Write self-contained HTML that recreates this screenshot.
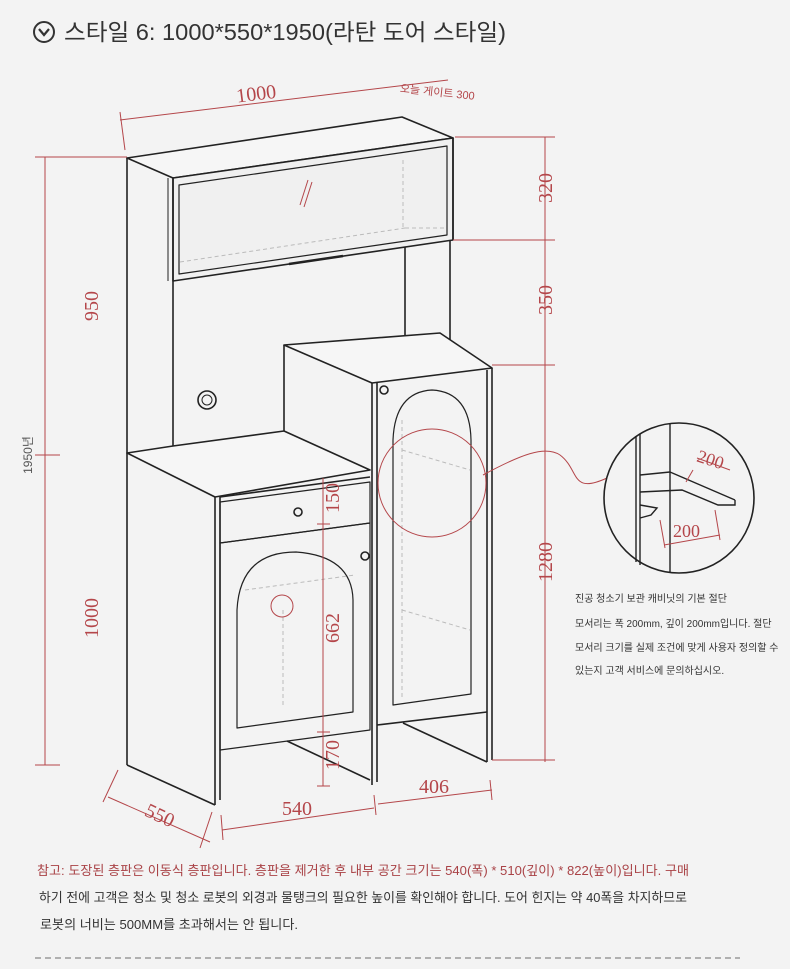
<!DOCTYPE html>
<html><head><meta charset="utf-8"><style>
html,body{margin:0;padding:0;background:#f3f3f3}
svg{display:block}
text{font-family:"Liberation Sans","Noto Sans CJK KR",sans-serif}
.s text, text.s{font-family:"Liberation Serif","Noto Serif CJK SC",serif}
</style></head><body>
<svg width="790" height="969" viewBox="0 0 790 969" xmlns="http://www.w3.org/2000/svg">
<rect width="790" height="969" fill="#f3f3f3"/>
<circle cx="44" cy="32" r="10" fill="none" stroke="#333" stroke-width="2"/>
<polyline points="39,29 44,35 49,29" fill="none" stroke="#333" stroke-width="2.2"/>
<text x="64" y="40" font-size="23" fill="#333" textLength="442" lengthAdjust="spacingAndGlyphs">스타일 6: 1000*550*1950(라탄 도어 스타일)</text>

<g fill="none" stroke="#222" stroke-width="1.6" stroke-linejoin="round">
<polygon points="127,158 402,117 453,138 173,178" fill="#f6f6f6"/>
<polygon points="173,178 453,138 453,240 173,281" fill="#f0f0f0"/>
<polygon points="179,185 447,146 447,235 179,274" stroke-width="1.2"/>
<line x1="289" y1="264" x2="343" y2="256" stroke-width="2.5"/>
<line x1="127" y1="158" x2="127" y2="765"/>
<line x1="173" y1="178" x2="173" y2="446"/>
<line x1="168" y1="178" x2="168" y2="281" stroke-width="1"/>
<line x1="405" y1="247" x2="405" y2="345"/>
<line x1="450" y1="240" x2="450" y2="345"/>
<line x1="453" y1="138" x2="453" y2="240"/>
<circle cx="207" cy="400" r="9"/><circle cx="207" cy="400" r="5" stroke-width="1"/>
<polygon points="127,453 173,446 284,431 370,470 215,497" fill="#f6f6f6"/>
<line x1="215" y1="497" x2="215" y2="805"/>
<line x1="220" y1="497" x2="220" y2="800"/>
<line x1="127" y1="765" x2="215" y2="805"/>
<line x1="220" y1="497" x2="370" y2="477"/>
<polygon points="220,502 370,482 370,523 220,543" stroke-width="1.2"/>
<circle cx="298" cy="512" r="4"/>
<polygon points="220,543 370,523 370,730 220,750" stroke-width="1.2"/>
<path d="M237,728 L237,610 Q240,552 296,552 Q352,556 353,600 L353,712 Z" stroke-width="1.2"/>
<circle cx="365" cy="556" r="4"/>
<line x1="287" y1="741" x2="370" y2="780"/>
<polygon points="284,345 440,333 492,368 372,383" fill="#f6f6f6"/>
<line x1="284" y1="345" x2="284" y2="431"/>
<line x1="372" y1="383" x2="372" y2="785"/>
<line x1="377" y1="383" x2="377" y2="782"/>
<line x1="487" y1="370" x2="487" y2="762"/>
<line x1="492" y1="368" x2="492" y2="760"/>
<line x1="377" y1="725" x2="487" y2="712"/>
<line x1="403" y1="723" x2="487" y2="762"/>
<path d="M393,705 L393,440 Q395,392 432,390 Q470,392 471,440 L471,694 Z" stroke-width="1.2"/>
<circle cx="384" cy="390" r="4"/>
</g>
<g stroke="#bbb" stroke-width="1" stroke-dasharray="4,3" fill="none">
<line x1="180" y1="262" x2="405" y2="228"/><line x1="405" y1="228" x2="445" y2="228"/><line x1="403" y1="160" x2="403" y2="230"/>
<line x1="245" y1="590" x2="355" y2="575"/><line x1="283" y1="610" x2="283" y2="705"/>
<line x1="402" y1="450" x2="470" y2="470"/><line x1="402" y1="610" x2="470" y2="630"/><line x1="402" y1="420" x2="402" y2="700"/>
</g>
<g stroke="#b4464a" stroke-width="1" fill="none">
<line x1="120" y1="120" x2="448" y2="80"/><line x1="120" y1="112" x2="125" y2="150"/>
<line x1="545" y1="137" x2="545" y2="762"/>
<line x1="455" y1="137" x2="555" y2="137"/><line x1="453" y1="240" x2="555" y2="240"/>
<line x1="492" y1="365" x2="555" y2="365"/><line x1="492" y1="760" x2="555" y2="760"/>
<line x1="45" y1="157" x2="45" y2="765"/>
<line x1="35" y1="157" x2="127" y2="157"/><line x1="35" y1="455" x2="60" y2="455"/><line x1="35" y1="765" x2="60" y2="765"/>
<line x1="323" y1="478" x2="323" y2="786"/>
<line x1="317" y1="524" x2="330" y2="524"/><line x1="317" y1="732" x2="330" y2="732"/><line x1="317" y1="786" x2="330" y2="786"/>
<line x1="108" y1="797" x2="210" y2="842"/><line x1="103" y1="802" x2="118" y2="770"/><line x1="200" y1="848" x2="212" y2="812"/>
<line x1="222" y1="830" x2="374" y2="808"/><line x1="221" y1="815" x2="223" y2="840"/>
<line x1="378" y1="804" x2="492" y2="790"/><line x1="374" y1="795" x2="376" y2="815"/><line x1="490" y1="780" x2="492" y2="800"/>
<circle cx="432" cy="483" r="54"/><circle cx="282" cy="606" r="11"/>
<path d="M483,475 C520,455 545,445 560,455 C580,470 570,495 607,478"/>
<line x1="300" y1="205" x2="308" y2="180"/><line x1="304" y1="207" x2="312" y2="182"/>
</g>
<g class="s" fill="#b4464a" font-size="20">
<text x="236" y="100" transform="rotate(-7 258 92)">1000</text>
<text x="540" y="200" transform="rotate(-90 540 188)" text-anchor="middle">320</text>
<text x="540" y="312" transform="rotate(-90 540 300)" text-anchor="middle">350</text>
<text x="540" y="574" transform="rotate(-90 540 562)" text-anchor="middle">1280</text>
<text x="86" y="318" transform="rotate(-90 86 306)" text-anchor="middle">950</text>
<text x="86" y="630" transform="rotate(-90 86 618)" text-anchor="middle">1000</text>
<text x="327" y="510" transform="rotate(-90 327 498)" text-anchor="middle">150</text>
<text x="327" y="640" transform="rotate(-90 327 628)" text-anchor="middle">662</text>
<text x="327" y="767" transform="rotate(-90 327 755)" text-anchor="middle">170</text>
<text x="160" y="822" transform="rotate(25 160 815)" text-anchor="middle">550</text>
<text x="297" y="815" text-anchor="middle">540</text>
<text x="434" y="793" text-anchor="middle">406</text>
</g>
<text x="400" y="92" font-size="11" fill="#b4464a" transform="rotate(6 400 88)">오늘 게이트 300</text>
<text x="32" y="455" font-size="12" fill="#555" transform="rotate(-90 32 455)" text-anchor="middle">1950년</text>
<g>
<circle cx="679" cy="498" r="75" fill="#f3f3f3" stroke="#222" stroke-width="1.6"/>
<g fill="none" stroke="#222" stroke-width="1.4">
<line x1="636" y1="436" x2="636" y2="562"/><line x1="640" y1="434" x2="640" y2="565"/>
<line x1="670" y1="424" x2="670" y2="573"/>
<line x1="640" y1="475" x2="670" y2="472"/><line x1="670" y1="472" x2="735" y2="500"/>
<polyline points="640,492 682,490 718,505 735,505 735,500"/>
<polyline points="640,505 657,508 651,515 640,518"/>
</g>
<g stroke="#b4464a" stroke-width="1" fill="none">
<line x1="697" y1="458" x2="730" y2="470"/><line x1="693" y1="470" x2="686" y2="482"/>
<line x1="664" y1="545" x2="720" y2="535"/><line x1="660" y1="520" x2="665" y2="548"/><line x1="715" y1="510" x2="720" y2="540"/>
</g>
<text class="s" x="697" y="466" font-size="18" fill="#b4464a" transform="rotate(18 712 460)">200</text>
<text class="s" x="673" y="537" font-size="18" fill="#b4464a">200</text>
</g>
<g font-size="10" fill="#333">
<text x="575" y="602">진공 청소기 보관 캐비닛의 기본 절단</text>
<text x="575" y="627">모서리는 폭 200mm, 깊이 200mm입니다. 절단</text>
<text x="575" y="651">모서리 크기를 실제 조건에 맞게 사용자 정의할 수</text>
<text x="575" y="674">있는지 고객 서비스에 문의하십시오.</text>
</g>
<g font-size="13">
<text x="37" y="875" fill="#a94246" textLength="652" lengthAdjust="spacingAndGlyphs">참고: 도장된 층판은 이동식 층판입니다. 층판을 제거한 후 내부 공간 크기는 540(폭) * 510(깊이) * 822(높이)입니다. 구매</text>
<text x="39" y="902" fill="#333" textLength="648" lengthAdjust="spacingAndGlyphs">하기 전에 고객은 청소 및 청소 로봇의 외경과 물탱크의 필요한 높이를 확인해야 합니다. 도어 힌지는 약 40폭을 차지하므로</text>
<text x="40" y="929" fill="#333" textLength="258" lengthAdjust="spacingAndGlyphs">로봇의 너비는 500MM를 초과해서는 안 됩니다.</text>
</g>
<line x1="35" y1="958" x2="740" y2="958" stroke="#999" stroke-width="1.5" stroke-dasharray="6,4"/>
</svg>
</body></html>
